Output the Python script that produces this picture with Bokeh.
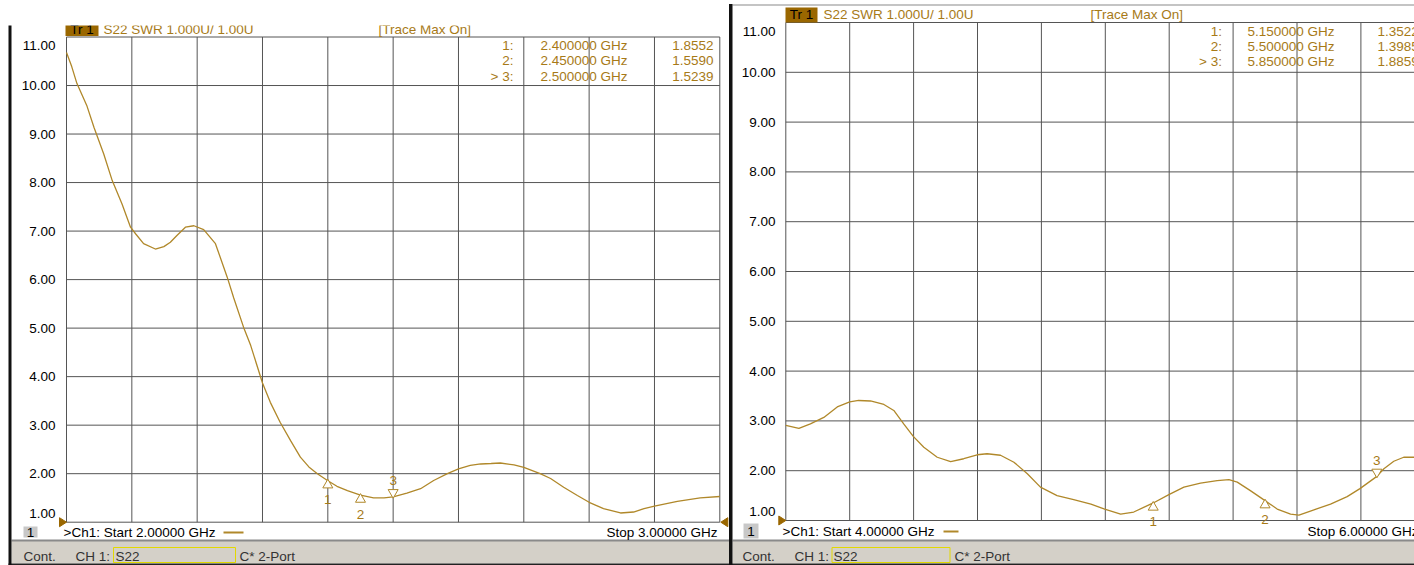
from bokeh.plotting import figure
from bokeh.models import Range1d
from bokeh.core.properties import value
from bokeh.embed import file_html
from bokeh.resources import INLINE

# ---------------- data (read from the two analyzer screens) ----------------
LEFT_START_GHZ = 2.0
LEFT_STOP_GHZ = 3.0
RIGHT_START_GHZ = 4.0
RIGHT_STOP_GHZ = 6.0

SWR_TICKS = [1, 2, 3, 4, 5, 6, 7, 8, 9, 10, 11]
LEFT_FREQ_TICKS = [2.0, 2.1, 2.2, 2.3, 2.4, 2.5, 2.6, 2.7, 2.8, 2.9, 3.0]
RIGHT_FREQ_TICKS = [4.0, 4.2, 4.4, 4.6, 4.8, 5.0, 5.2, 5.4, 5.6, 5.8, 6.0]

LEFT_FREQ_GHZ = [2.000, 2.008, 2.016, 2.031, 2.042, 2.057, 2.070, 2.085, 2.098, 2.106,
                 2.118, 2.136, 2.149, 2.159, 2.169, 2.182, 2.195, 2.210, 2.228, 2.246,
                 2.256, 2.271, 2.282, 2.300, 2.312, 2.327, 2.343, 2.358, 2.371, 2.384,
                 2.400, 2.414, 2.430, 2.450, 2.470, 2.486, 2.500, 2.521, 2.542, 2.562,
                 2.583, 2.600, 2.618, 2.634, 2.650, 2.664, 2.685, 2.700, 2.725, 2.741,
                 2.761, 2.782, 2.800, 2.822, 2.848, 2.868, 2.884, 2.900, 2.935, 2.970,
                 3.000]
LEFT_SWR = [10.68, 10.39, 10.04, 9.59, 9.14, 8.59, 8.04, 7.56, 7.08, 6.94,
            6.74, 6.63, 6.68, 6.77, 6.91, 7.08, 7.11, 7.03, 6.74, 6.05,
            5.62, 5.02, 4.64, 3.87, 3.47, 3.06, 2.68, 2.34, 2.14, 2.00,
            1.8552, 1.74, 1.65, 1.559, 1.50, 1.50, 1.5239, 1.60, 1.69, 1.86,
            2.00, 2.10, 2.17, 2.20, 2.21, 2.22, 2.18, 2.13, 2.00, 1.90,
            1.72, 1.55, 1.41, 1.28, 1.19, 1.21, 1.28, 1.33, 1.43, 1.50,
            1.53]

RIGHT_FREQ_GHZ = [4.000, 4.041, 4.077, 4.119, 4.161, 4.200, 4.228, 4.265, 4.307, 4.338,
                  4.369, 4.399, 4.432, 4.474, 4.516, 4.557, 4.599, 4.630, 4.672, 4.714,
                  4.756, 4.797, 4.849, 4.901, 4.955, 4.998, 5.048, 5.089, 5.150, 5.199,
                  5.246, 5.298, 5.350, 5.387, 5.413, 5.454, 5.500, 5.538, 5.580, 5.606,
                  5.642, 5.705, 5.757, 5.797, 5.850, 5.872, 5.903, 5.934, 5.968, 6.000]
RIGHT_SWR = [2.91, 2.85, 2.94, 3.07, 3.28, 3.38, 3.41, 3.40, 3.33, 3.21,
             2.94, 2.69, 2.47, 2.27, 2.18, 2.24, 2.32, 2.34, 2.31, 2.17,
             1.94, 1.67, 1.50, 1.42, 1.33, 1.23, 1.13, 1.17, 1.3522, 1.52,
             1.67, 1.75, 1.80, 1.82, 1.77, 1.60, 1.3985, 1.23, 1.13, 1.11,
             1.19, 1.33, 1.48, 1.64, 1.8859, 2.04, 2.19, 2.27, 2.27, 2.25]

MARKER_IDS = [1, 2, 3]
ACTIVE_MARKER = 3
LEFT_MARKER_FREQ = [2.40, 2.45, 2.50]
LEFT_MARKER_SWR = [1.8552, 1.5590, 1.5239]
RIGHT_MARKER_FREQ = [5.15, 5.50, 5.85]
RIGHT_MARKER_SWR = [1.3522, 1.3985, 1.8859]
REF_LEVEL = 1.0

HEADER = "S22 SWR 1.000U/  1.00U"
TRACE_INFO = "[Trace Max On]"

# ---------------- layout (picture pixels) ----------------
OFF = 0
W, H = 1414, 565
L_X0, L_X1, L_TOP, L_BOT = 66.0, 719.3, 36.5, 521.7
R_X0, R_X1, R_TOP, R_BOT = 785.3, 1424.3, 22.0, 520.0

GOLD = "#A77A17"
TRACE = "#B0882A"
TR_BOX = "#9A6700"
GRID = "#555555"
STATUS_BG = "#D4D0C8"
FONT = value("Liberation Sans")
FS = "13.5px"


def lin_range(v0, v1, p0, p1, c0, c1):
    k = (v1 - v0) / (p1 - p0)
    return Range1d(start=v0 + (c0 - p0) * k, end=v0 + (c1 - p0) * k)


p = figure(width=W, height=H, output_backend="svg", toolbar_location=None, title=None,
           x_axis_type=None, y_axis_type=None, min_border=0,
           x_range=lin_range(LEFT_START_GHZ, LEFT_STOP_GHZ, L_X0, L_X1, OFF, OFF + W),
           y_range=lin_range(SWR_TICKS[0], SWR_TICKS[-1], L_BOT, L_TOP, OFF + H, OFF))
p.outline_line_color = None
p.background_fill_color = "white"
p.border_fill_color = "white"
p.extra_x_ranges = {
    "r": lin_range(RIGHT_START_GHZ, RIGHT_STOP_GHZ, R_X0, R_X1, OFF, OFF + W),
    "px": Range1d(start=OFF, end=OFF + W),
}
p.extra_y_ranges = {
    "r": lin_range(SWR_TICKS[0], SWR_TICKS[-1], R_BOT, R_TOP, OFF + H, OFF),
    "px": Range1d(start=OFF + H, end=OFF),
}

L_PPX = (L_X1 - L_X0) / (LEFT_STOP_GHZ - LEFT_START_GHZ)
L_PPY = (L_BOT - L_TOP) / (SWR_TICKS[-1] - SWR_TICKS[0])
R_PPX = (R_X1 - R_X0) / (RIGHT_STOP_GHZ - RIGHT_START_GHZ)
R_PPY = (R_BOT - R_TOP) / (SWR_TICKS[-1] - SWR_TICKS[0])
RKW = dict(x_range_name="r", y_range_name="r")


def pbox(l, r, t, b, fill, line=None, lw=1.0):
    p.quad(left=[l], right=[r], top=[t], bottom=[b], fill_color=fill, line_color=line,
           line_width=lw, x_range_name="px", y_range_name="px")


def ptext(xs, ys, texts, color="black", align="left", size=FS, baseline="middle"):
    p.text(x=xs, y=ys, text=texts, x_range_name="px", y_range_name="px",
           text_font=FONT, text_font_size=size, text_color=color,
           text_align=align, text_baseline=baseline)


# ---------------- chrome: status bars, info rows ----------------
for (x0, x1) in [(11, 728.5), (732, OFF + W)]:
    pbox(x0, x1, 540.5, 563, STATUS_BG)
    pbox(x0, x1, 539.0, 541.0, "#8a8a8a")
pbox(8, OFF + W, 563, OFF + H, "#222222")

# left status bar
pbox(113, 235, 547, 562, None, "#E2D800", 1)
ptext([23, 75, 115, 239], [555.5] * 4, ["Cont.", "CH 1:", "S22", "C* 2-Port"], color="#333333")
# right status bar
pbox(831.5, 949.5, 547, 562, None, "#E2D800", 1)
ptext([742, 794, 833, 954], [555.5] * 4, ["Cont.", "CH 1:", "S22", "C* 2-Port"], color="#333333")

# channel number boxes
pbox(23, 37, 526, 537, "#C8C8C8")
ptext([30], [531.5], ["1"], align="center")
pbox(743, 758, 523, 538, "#C8C8C8")
ptext([750.5], [530.5], ["1"], align="center")

# start / stop lines
ptext([63], [532], [f">Ch1: Start {LEFT_START_GHZ:.5f} GHz"])
p.segment(x0=[223], y0=[532], x1=[243], y1=[532], line_color=TRACE, line_width=2,
          x_range_name="px", y_range_name="px")
ptext([717], [532], [f"Stop {LEFT_STOP_GHZ:.5f} GHz"], align="right")
ptext([782], [531], [f">Ch1: Start {RIGHT_START_GHZ:.5f} GHz"])
p.segment(x0=[943], y0=[531], x1=[958], y1=[531], line_color=TRACE, line_width=2,
          x_range_name="px", y_range_name="px")
ptext([1307], [531], [f"Stop {RIGHT_STOP_GHZ:.5f} GHz"])

# ---------------- grids ----------------
p.segment(x0=LEFT_FREQ_TICKS, x1=LEFT_FREQ_TICKS,
          y0=[SWR_TICKS[0]] * len(LEFT_FREQ_TICKS), y1=[SWR_TICKS[-1]] * len(LEFT_FREQ_TICKS),
          line_color=GRID, line_width=1)
p.segment(x0=[LEFT_START_GHZ] * len(SWR_TICKS), x1=[LEFT_STOP_GHZ] * len(SWR_TICKS),
          y0=SWR_TICKS, y1=SWR_TICKS, line_color=GRID, line_width=1)
p.segment(x0=RIGHT_FREQ_TICKS, x1=RIGHT_FREQ_TICKS,
          y0=[SWR_TICKS[0]] * len(RIGHT_FREQ_TICKS), y1=[SWR_TICKS[-1]] * len(RIGHT_FREQ_TICKS),
          line_color=GRID, line_width=1, **RKW)
p.segment(x0=[RIGHT_START_GHZ] * len(SWR_TICKS), x1=[RIGHT_STOP_GHZ] * len(SWR_TICKS),
          y0=SWR_TICKS, y1=SWR_TICKS, line_color=GRID, line_width=1, **RKW)

# y tick labels (top / bottom labels sit inside the grid, as on the analyzer)
tick_lbl = [f"{t:.2f}" for t in SWR_TICKS]
for (x0, off, ppy, top_shift, bot_shift, kw) in [
        (LEFT_START_GHZ, L_X0 - 55.0, L_PPY, 8.0, 9.2, {}),
        (RIGHT_START_GHZ, R_X0 - 775.0, R_PPY, 8.7, 9.0, RKW)]:
    ys = [SWR_TICKS[0] + bot_shift / ppy] + SWR_TICKS[1:-1] + [SWR_TICKS[-1] - top_shift / ppy]
    p.text(x=[x0] * len(SWR_TICKS), y=ys, text=tick_lbl, text_font=FONT, text_font_size=FS,
           text_color="black", text_align="right", text_baseline="middle", x_offset=-off, **kw)

# ---------------- traces ----------------
p.line(LEFT_FREQ_GHZ, LEFT_SWR, line_color=TRACE, line_width=1.3)
p.line(RIGHT_FREQ_GHZ, RIGHT_SWR, line_color=TRACE, line_width=1.3, **RKW)


# ---------------- markers ----------------
def draw_markers(freqs, swrs, ppy, kw):
    for mid, f, v in zip(MARKER_IDS, freqs, swrs):
        if mid == ACTIVE_MARKER:
            p.scatter([f], [v + 4.3 / ppy], marker="inverted_triangle", size=10,
                      line_color=TRACE, fill_color="white", line_width=1, **kw)
            p.text(x=[f], y=[v + 16.0 / ppy], text=[str(mid)], text_font=FONT,
                   text_font_size=FS, text_color=GOLD, text_align="center",
                   text_baseline="middle", **kw)
        else:
            p.scatter([f], [v - 4.3 / ppy], marker="triangle", size=10,
                      line_color=TRACE, fill_color="white", line_width=1, **kw)
            p.text(x=[f], y=[v - 19.0 / ppy], text=[str(mid)], text_font=FONT,
                   text_font_size=FS, text_color=GOLD, text_align="center",
                   text_baseline="middle", **kw)


draw_markers(LEFT_MARKER_FREQ, LEFT_MARKER_SWR, L_PPY, {})
draw_markers(RIGHT_MARKER_FREQ, RIGHT_MARKER_SWR, R_PPY, RKW)


# reference-position arrows at the frame edges
def ref_arrow(x_edge, direction, ppx, ppy, kw):
    dx = 7.0 / ppx * direction
    dy = 4.5 / ppy
    p.patch([x_edge, x_edge - dx, x_edge - dx], [REF_LEVEL, REF_LEVEL + dy, REF_LEVEL - dy],
            fill_color=TR_BOX, line_color=TR_BOX, **kw)


ref_arrow(LEFT_START_GHZ, 1, L_PPX, L_PPY, {})
ref_arrow(LEFT_STOP_GHZ + 1.0 / L_PPX, -1, L_PPX, L_PPY, {})
ref_arrow(RIGHT_START_GHZ, 1, R_PPX, R_PPY, RKW)


# ---------------- headers and marker tables ----------------
def marker_tables(freqs, swrs, x_id, x_f, x_v, v_align, ys):
    ids = [("> " if m == ACTIVE_MARKER else "") + f"{m}:" for m in MARKER_IDS]
    ptext([x_id] * 3, ys, ids, color=GOLD, align="right")
    ptext([x_f] * 3, ys, [f"{f:.6f} GHz" for f in freqs], color=GOLD)
    ptext([x_v] * 3, ys, [f"{v:.4f}" for v in swrs], color=GOLD, align=v_align)


marker_tables(LEFT_MARKER_FREQ, LEFT_MARKER_SWR, 513, 540, 713, "right", [45, 60, 75.5])
marker_tables(RIGHT_MARKER_FREQ, RIGHT_MARKER_SWR, 1221.5, 1247, 1377, "left", [31, 46, 61])

# left header (top of this screen is cropped at y=25)
pbox(65, 98, 18, 35.5, TR_BOX)
ptext([81.5], [29], ["Tr 1"], align="center")
ptext([103, 378], [29, 29], [HEADER, TRACE_INFO], color=GOLD)
pbox(OFF, 728.5, OFF, 25, "white")

# right header
pbox(732, OFF + W, 3.5, 5.5, "#c4c4c4")
pbox(785, 817, 7, 22, TR_BOX)
ptext([801], [14], ["Tr 1"], align="center")
ptext([823, 1090], [14, 14], [HEADER, TRACE_INFO], color=GOLD)

# window edges
pbox(8, 11, 25, OFF + H, "#111111")
pbox(728.5, 732, 3.5, OFF + H, "#111111")

open("out.html", "w").write(file_html(p, INLINE))
